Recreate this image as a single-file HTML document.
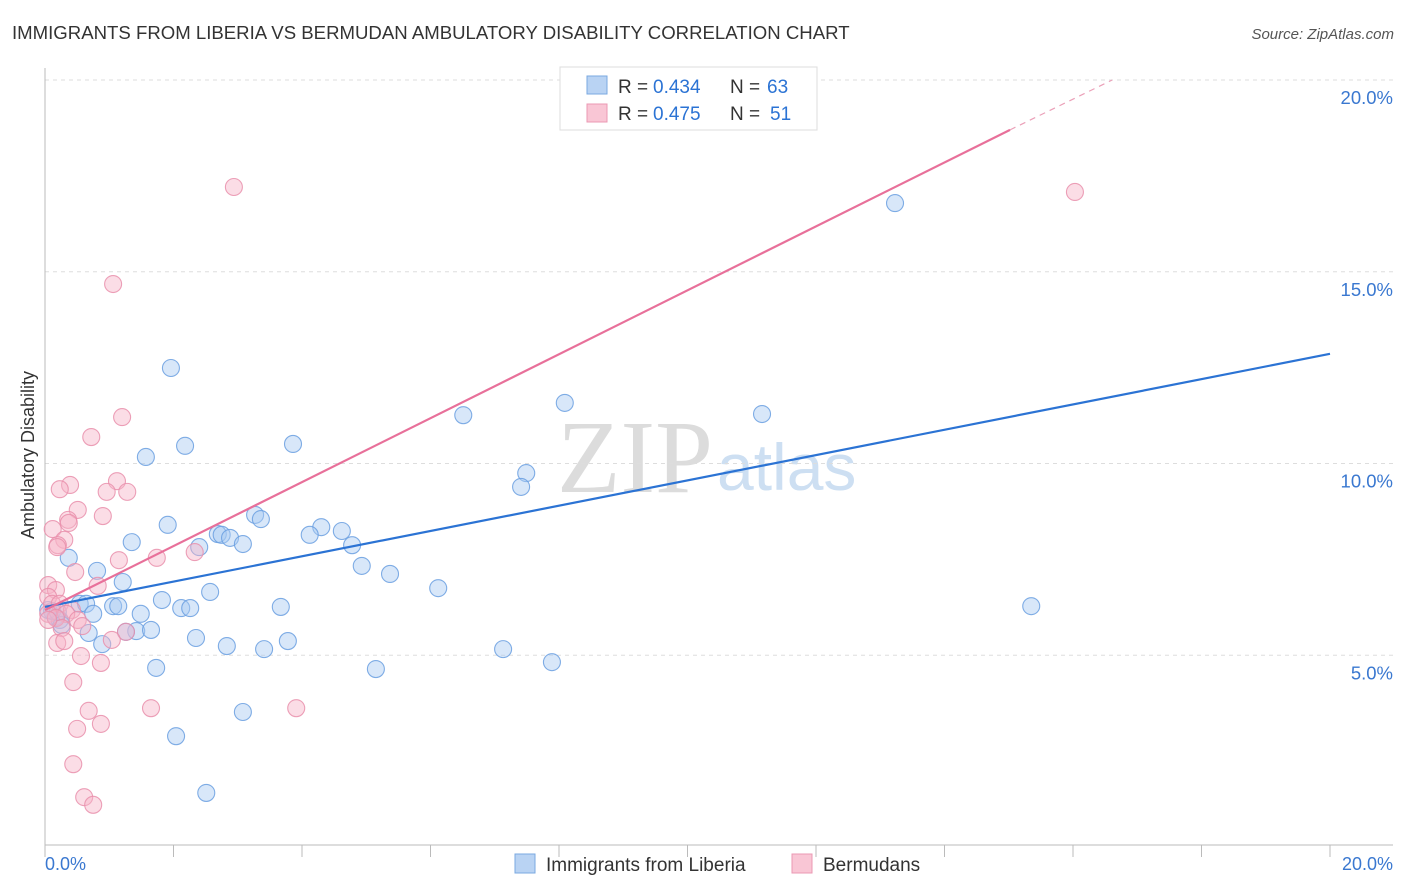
<!DOCTYPE html>
<html><head><meta charset="utf-8"><style>
body{margin:0;background:#fff;font-family:"Liberation Sans",sans-serif;}
svg{display:block}
</style></head><body>
<svg id="chart" width="1406" height="892" xmlns="http://www.w3.org/2000/svg">
<text x="12" y="39" font-size="18.6" fill="#333">IMMIGRANTS FROM LIBERIA VS BERMUDAN AMBULATORY DISABILITY CORRELATION CHART</text>
<text x="1394" y="39" font-size="15" fill="#555" font-style="italic" text-anchor="end">Source: ZipAtlas.com</text>
<text x="713" y="492" font-size="104" fill="#dcdcdc" text-anchor="end" font-family="Liberation Serif,serif">ZIP</text>
<text x="717" y="490" font-size="66" fill="#cddff2">atlas</text>
<g id="grid"></g>
<g id="axes"></g>
<g id="pts"></g>
<g id="lines"></g>
<text transform="translate(34,455) rotate(-90)" font-size="18" fill="#333" text-anchor="middle">Ambulatory Disability</text>
<text x="45" y="870" font-size="18" fill="#3a78d0">0.0%</text>
<text x="1393" y="870" font-size="18" fill="#3a78d0" text-anchor="end">20.0%</text>
<g>
<rect x="560" y="67" width="257" height="63" fill="#fff" stroke="#ddd"/>
<rect x="587" y="76" width="20" height="18" fill="#b9d3f3" stroke="#7aa8e0"/>
<rect x="587" y="104" width="20" height="18" fill="#f9c6d5" stroke="#eb98b3"/>
<text x="618" y="93" font-size="19" fill="#333">R = </text>
<text x="653" y="93" font-size="19" fill="#2b73d4">0.434</text>
<text x="730" y="93" font-size="19" fill="#333">N = </text>
<text x="767" y="93" font-size="19" fill="#2b73d4">63</text>
<text x="618" y="120" font-size="19" fill="#333">R = </text>
<text x="653" y="120" font-size="19" fill="#2b73d4">0.475</text>
<text x="730" y="120" font-size="19" fill="#333">N = </text>
<text x="770" y="120" font-size="19" fill="#2b73d4">51</text>
</g>
<g>
<rect x="515" y="854" width="20" height="19" fill="#b9d3f3" stroke="#7aa8e0"/>
<text x="546" y="871" font-size="19" fill="#333">Immigrants from Liberia</text>
<rect x="792" y="854" width="20" height="19" fill="#f9c6d5" stroke="#eb98b3"/>
<text x="823" y="871" font-size="19" fill="#333">Bermudans</text>
</g>
</svg>
<script>
const yTicks=[5,10,15,20];
const xTicks=[0,2,4,6,8,10,12,14,16,18,20];
const blueX=[13.23,1.96,6.51,8.09,11.16,2.18,3.86,1.57,7.49,7.41,3.27,3.36,1.91,4.30,4.12,4.62,2.69,2.75,2.88,4.78,3.08,2.40,1.35,0.37,4.93,5.37,0.81,1.21,6.12,2.57,1.82,15.35,3.67,2.12,2.26,0.54,0.64,1.06,1.14,1.49,0.75,0.16,0.23,0.11,0.26,1.42,1.26,1.65,0.68,2.35,3.78,0.89,2.83,3.41,7.13,7.89,1.73,5.15,3.08,2.04,2.51,0.05,0.20];
const blueY=[16.79,12.49,11.26,11.58,11.29,10.46,10.51,10.17,9.75,9.39,8.66,8.55,8.40,8.34,8.14,8.24,8.16,8.14,8.06,7.87,7.90,7.82,7.95,7.54,7.33,7.12,7.20,6.91,6.75,6.65,6.44,6.28,6.26,6.23,6.23,6.34,6.34,6.28,6.28,6.08,6.08,6.00,5.92,6.15,5.79,5.63,5.61,5.66,5.58,5.45,5.37,5.29,5.24,5.16,5.16,4.82,4.67,4.64,3.52,2.89,1.41,6.18,6.13];
const pinkX=[2.94,16.03,1.06,1.20,0.72,1.12,0.39,0.23,0.96,1.28,0.51,0.90,0.36,0.37,0.12,0.30,0.20,0.19,1.15,1.74,2.33,0.47,0.05,0.17,0.82,0.05,0.11,0.23,0.42,0.33,0.05,0.17,0.51,0.58,0.26,1.26,1.04,0.19,0.30,0.56,0.87,0.44,1.65,3.91,0.68,0.87,0.50,0.44,0.61,0.75,0.05];
const pinkY=[17.21,17.08,14.68,11.21,10.69,9.54,9.44,9.33,9.26,9.26,8.79,8.63,8.53,8.45,8.29,8.01,7.87,7.82,7.48,7.54,7.69,7.17,6.83,6.70,6.81,6.52,6.34,6.34,6.18,6.08,6.08,5.97,5.92,5.76,5.71,5.61,5.40,5.32,5.37,4.98,4.80,4.30,3.62,3.62,3.55,3.21,3.08,2.16,1.30,1.10,5.92];
const blueTrend=[0,6.26,20,12.86];
const pinkTrend=[0,6.18,15.02,18.70];
const pinkDash=[15.02,18.70,16.61,20.0];
const NS="http://www.w3.org/2000/svg";
const sx=v=>45+v*64.25, sy=v=>847-v*38.35;
function mk(tag,attrs,parent){const e=document.createElementNS(NS,tag);for(const k in attrs)e.setAttribute(k,attrs[k]);parent.appendChild(e);return e;}
const grid=document.getElementById('grid'),axes=document.getElementById('axes'),pts=document.getElementById('pts'),lines=document.getElementById('lines');
yTicks.forEach(t=>{
 const l=mk('line',{x1:45,x2:1393,y1:sy(t),y2:sy(t),stroke:'#ddd','stroke-dasharray':'4,4'},grid);
 
 
 const tx=mk('text',{x:1393,y:sy(t)+24,'font-size':18.5,fill:'#3a78d0','text-anchor':'end'},grid);
 tx.textContent=t.toFixed(1)+'%';
 
 
});
const ya=mk('line',{x1:45,x2:45,y1:68,y2:845,stroke:'#bbb'},axes);


const xa=mk('line',{x1:45,x2:1393,y1:845,y2:845,stroke:'#bbb'},axes);


xTicks.forEach(t=>{
 const l=mk('line',{x1:sx(t),x2:sx(t),y1:845,y2:857,stroke:'#bbb'},axes);
 
 
});
function dots(X,Y,fill,stroke,name){X.forEach((x,i)=>{
 const c=mk('circle',{cx:sx(x),cy:sy(Y[i]),r:8.5,fill:fill,'fill-opacity':0.45,stroke:stroke,'stroke-width':1.1,'stroke-opacity':0.85},pts);
 
 
});}
dots(blueX,blueY,'#a9c9f2','#6a9fe0','liberia-point');
dots(pinkX,pinkY,'#f6b3c8','#e98fab','bermudan-point');
const bl=mk('line',{x1:sx(blueTrend[0]),y1:sy(blueTrend[1]),x2:sx(blueTrend[2]),y2:sy(blueTrend[3]),stroke:'#2b73d4','stroke-width':2.2},lines);


const pl=mk('line',{x1:sx(pinkTrend[0]),y1:sy(pinkTrend[1]),x2:sx(pinkTrend[2]),y2:sy(pinkTrend[3]),stroke:'#e8709a','stroke-width':2.2},lines);


const pd=mk('line',{x1:sx(pinkDash[0]),y1:sy(pinkDash[1]),x2:sx(pinkDash[2]),y2:sy(pinkDash[3]),stroke:'#eba0b8','stroke-width':1.2,'stroke-dasharray':'6,5'},lines);


</script>
</body></html>
